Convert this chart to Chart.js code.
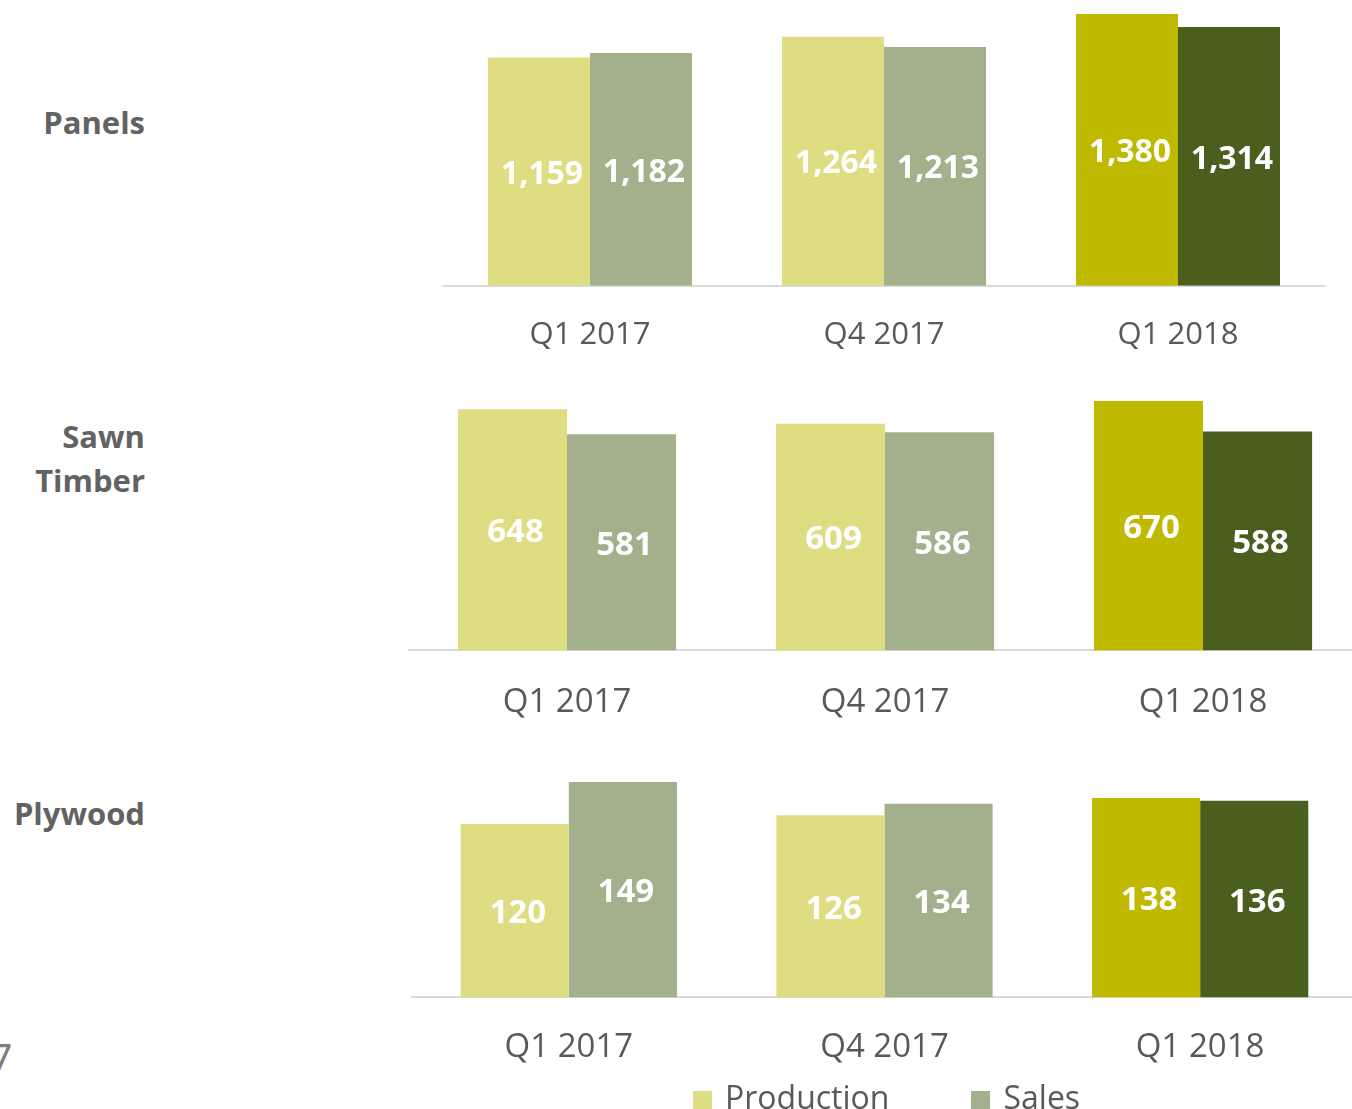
<!DOCTYPE html>
<html>
<head>
<meta charset="utf-8">
<script src="https://cdn.jsdelivr.net/npm/chart.js@4.4.0/dist/chart.umd.min.js"></script>
<style>
  html, body { margin: 0; padding: 0; background: #fff; }
  body { width: 1352px; height: 1109px; overflow: hidden; position: relative; font-family: "Open Sans", sans-serif; }
  .chart { position: absolute; }
  .side { position: absolute; right: 1207px; text-align: right; font-weight: bold; font-size: 31px; line-height: 44px; color: #626262; white-space: nowrap; }
  .page { position: absolute; left: -12px; top: 1029px; font-size: 43px; color: #7f7f7f; }
  #legend { position: absolute; left: 693px; top: 1076px; display: flex; font-size: 32px; color: #595959; line-height: 42px; }
  #legend span.item { display: flex; align-items: center; }
  #legend i { display: inline-block; width: 19px; height: 20px; margin: 8px 13px 0 0; }
</style>
</head>
<body>

<div class="side" style="top:100px">Panels</div>
<div class="side" style="top:414px">Sawn<br>Timber</div>
<div class="side" style="top:791px">Plywood</div>
<div class="page">7</div>

<div class="chart" style="left:443px;top:14px;width:882px;height:371px"><canvas id="panels"></canvas></div>
<div class="chart" style="left:408px;top:401px;width:954px;height:353px"><canvas id="sawn"></canvas></div>
<div class="chart" style="left:411px;top:782px;width:947px;height:315px"><canvas id="plywood"></canvas></div>

<div id="legend"></div>

<script>
const quarters = ["Q1 2017", "Q4 2017", "Q1 2018"];
const seriesNames = ["Production", "Sales"];

const panelsProduction = [1159, 1264, 1380];
const panelsSales = [1182, 1213, 1314];

const sawnProduction = [648, 609, 670];
const sawnSales = [581, 586, 588];

const plywoodProduction = [120, 126, 138];
const plywoodSales = [149, 134, 136];

// latest quarter gets the strong colours
const productionColors = ["#DFDD82", "#DFDD82", "#BFB900"];
const salesColors = ["#A3B08C", "#A3B08C", "#4A5E1E"];

// white value labels centred in each bar
const barLabels = {
  id: "barLabels",
  afterDatasetsDraw(chart, args, opts) {
    const ctx = chart.ctx;
    ctx.save();
    ctx.font = opts.font;
    ctx.fillStyle = "#ffffff";
    ctx.textAlign = "center";
    ctx.textBaseline = "middle";
    chart.data.datasets.forEach((ds, i) => {
      chart.getDatasetMeta(i).data.forEach((bar, j) => {
        const p = bar.getProps(["x", "y", "base"], true);
        ctx.fillText(ds.data[j].toLocaleString("en-US"), p.x + 3, (p.y + p.base) / 2 + 3);
      });
    });
    ctx.restore();
  },
};

function makeChart(id, production, sales, opt) {
  const ctx = document.getElementById(id).getContext("2d");
  return new Chart(ctx, {
    type: "bar",
    data: {
      labels: quarters,
      datasets: [
        { label: seriesNames[0], data: production, backgroundColor: productionColors },
        { label: seriesNames[1], data: sales, backgroundColor: salesColors },
      ],
    },
    plugins: [barLabels],
    options: {
      responsive: true,
      maintainAspectRatio: false,
      animation: false,
      events: [],
      layout: { padding: 0 },
      categoryPercentage: opt.catPct,
      barPercentage: 1,
      plugins: {
        legend: { display: false },
        tooltip: { enabled: false },
        barLabels: { font: "bold " + opt.labelSize + "px 'Open Sans'" },
      },
      scales: {
        x: {
          grid: { display: false, drawTicks: false },
          border: { display: true, color: "#D9D9D9", width: 2 },
          ticks: { color: "#595959", padding: opt.tickPad, font: { family: "'Open Sans'", size: opt.tickSize } },
        },
        y: {
          display: false,
          min: 0,
          max: Math.max(...production, ...sales),
        },
      },
    },
  });
}

makeChart("panels", panelsProduction, panelsSales, { catPct: 0.694, labelSize: 32, tickSize: 31, tickPad: 31 });
makeChart("sawn", sawnProduction, sawnSales, { catPct: 0.686, labelSize: 33, tickSize: 33, tickPad: 32 });
makeChart("plywood", plywoodProduction, plywoodSales, { catPct: 0.685, labelSize: 33, tickSize: 33, tickPad: 30 });

// legend uses the lighter colours, as in the original slide
const legend = document.getElementById("legend");
const legendColors = [productionColors[0], salesColors[0]];
seriesNames.forEach((name, i) => {
  const item = document.createElement("span");
  item.className = "item";
  if (i > 0) item.style.marginLeft = "82px";
  item.innerHTML = '<i style="background:' + legendColors[i] + '"></i>' + name;
  legend.appendChild(item);
});
</script>
</body>
</html>
